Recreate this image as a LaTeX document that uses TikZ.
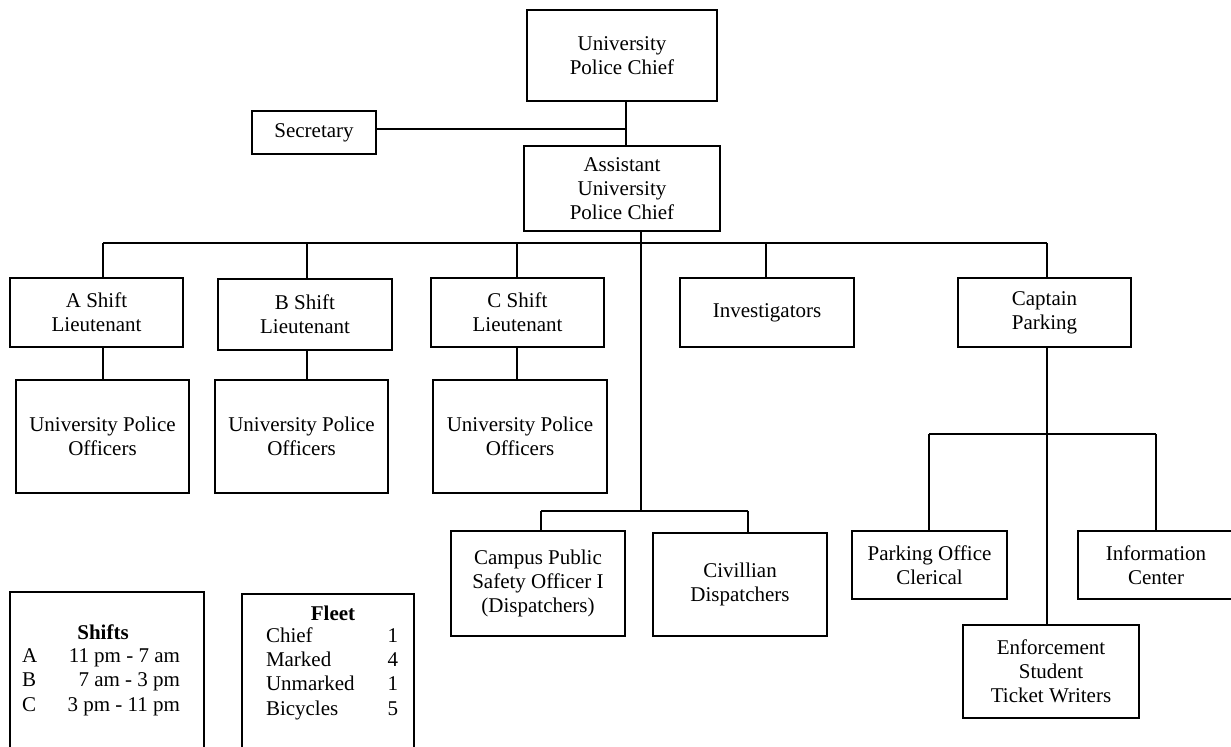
\documentclass[tikz,border=0pt]{standalone}
\usepackage{fontspec}
\setmainfont{Liberation Serif}
\begin{document}
\begin{tikzpicture}[x=0.5pt,y=-0.5pt,
  box/.style={draw, line width=0.8pt, inner sep=0pt, outer sep=0pt, align=center,
    font=\fontsize{10.5pt}{12pt}\selectfont},
  conn/.style={line width=0.8pt},
  lt/.style={inner sep=0pt, outer sep=0pt, font=\fontsize{10.5pt}{12pt}\selectfont},
  ttl/.style={inner sep=0pt, outer sep=0pt, font=\fontsize{10.5pt}{12pt}\selectfont\bfseries}]
\useasboundingbox (0,0) rectangle (1231,747);
\clip (0,0) rectangle (1231,747);
% boxes
\node[box, minimum width=95pt, minimum height=45.5pt] (chief) at (622,55.5) {University\\Police Chief};
\node[box, minimum width=62pt, minimum height=21.5pt] (sec) at (314,132.5) {Secretary};
\node[box, minimum width=98pt, minimum height=42.5pt] (asst) at (622,188.5) {Assistant\\University\\Police Chief};
\node[box, minimum width=86.5pt, minimum height=34.5pt] (ashift) at (96.5,312.5) {A Shift\\Lieutenant};
\node[box, minimum width=87pt, minimum height=35.5pt] (bshift) at (305,314.5) {B Shift\\Lieutenant};
\node[box, minimum width=86.5pt, minimum height=34.5pt] (cshift) at (517.5,312.5) {C Shift\\Lieutenant};
\node[box, minimum width=87pt, minimum height=34.5pt] (inv) at (767,312.5) {Investigators};
\node[box, minimum width=86.5pt, minimum height=34.5pt] (capt) at (1044.5,312.5) {Captain\\Parking};
\node[box, minimum width=86.5pt, minimum height=56.5pt] (offA) at (102.5,436.5) {University Police\\Officers};
\node[box, minimum width=86.5pt, minimum height=56.5pt] (offB) at (301.5,436.5) {University Police\\Officers};
\node[box, minimum width=87pt, minimum height=56.5pt] (offC) at (520,436.5) {University Police\\Officers};
\node[box, minimum width=87pt, minimum height=52.5pt] (campus) at (538,583.5) {Campus Public\\Safety Officer I\\(Dispatchers)};
\node[box, minimum width=87pt, minimum height=51.5pt] (civ) at (740,584.5) {Civillian\\Dispatchers};
\node[box, minimum width=77.5pt, minimum height=34pt] (pclerk) at (929.5,565) {Parking Office\\Clerical};
\node[box, minimum width=78pt, minimum height=34pt] (info) at (1156,565) {Information\\Center};
\node[box, minimum width=88pt, minimum height=46.5pt] (enf) at (1051,671.5) {Enforcement\\Student\\Ticket Writers};
% legend boxes
\node[box, minimum width=97pt, minimum height=80pt] (shiftsbox) at (107,672) {};
\node[box, minimum width=86pt, minimum height=79pt] (fleetbox) at (328,673) {};
\node[ttl] (shiftsT) at (103,632) {Shifts};
\node[lt, anchor=mid west] (sA) at (22,658) {A};
\node[lt, anchor=mid west] (sB) at (22,682) {B};
\node[lt, anchor=mid west] (sC) at (22,707) {C};
\node[lt, anchor=mid east] (tA) at (180,658) {11 pm - 7 am};
\node[lt, anchor=mid east] (tB) at (180,682) {7 am - 3 pm};
\node[lt, anchor=mid east] (tC) at (180,707) {3 pm - 11 pm};
\node[ttl] (fleetT) at (333,613) {Fleet};
\node[lt, anchor=mid west] (f1) at (266,638) {Chief};
\node[lt, anchor=mid west] (f2) at (266,662) {Marked};
\node[lt, anchor=mid west] (f3) at (266,686) {Unmarked};
\node[lt, anchor=mid west] (f4) at (266,711) {Bicycles};
\node[lt, anchor=mid east] (n1) at (398,638) {1};
\node[lt, anchor=mid east] (n2) at (398,662) {4};
\node[lt, anchor=mid east] (n3) at (398,686) {1};
\node[lt, anchor=mid east] (n4) at (398,711) {5};
% junction coordinates
\coordinate (sj) at (626,129);
\coordinate (ba) at (103,243);
\coordinate (bb) at (307,243);
\coordinate (bc) at (517,243);
\coordinate (bi) at (766,243);
\coordinate (bk) at (1047,243);
\coordinate (dbus) at (641,511);
\coordinate (dl) at (541,511);
\coordinate (dr) at (748,511);
\coordinate (pl) at (929,434);
\coordinate (pr) at (1156,434);
% connectors
\draw[conn] ([xshift=2pt]chief.south) -- ([xshift=2pt]asst.north);
\draw[conn] ([yshift=1.75pt]sec.east) -- (sj);
\draw[conn] ([xshift=9.5pt]asst.south) -- (dbus);
\draw[conn] (ba) -- (bk);
\draw[conn] (ba) -- (ba |- ashift.north);
\draw[conn] (bb) -- (bb |- bshift.north);
\draw[conn] (bc) -- (bc |- cshift.north);
\draw[conn] (bi) -- (bi |- inv.north);
\draw[conn] (bk) -- (bk |- capt.north);
\draw[conn] (ba |- ashift.south) -- (ba |- offA.north);
\draw[conn] (bb |- bshift.south) -- (bb |- offB.north);
\draw[conn] (bc |- cshift.south) -- (bc |- offC.north);
\draw[conn] (dl) -- (dr);
\draw[conn] (dl) -- (dl |- campus.north);
\draw[conn] (dr) -- (dr |- civ.north);
\draw[conn] (bk |- capt.south) -- (bk |- enf.north);
\draw[conn] (pl) -- (pr);
\draw[conn] (pl) -- (pl |- pclerk.north);
\draw[conn] (pr) -- (pr |- info.north);
\end{tikzpicture}
\end{document}
